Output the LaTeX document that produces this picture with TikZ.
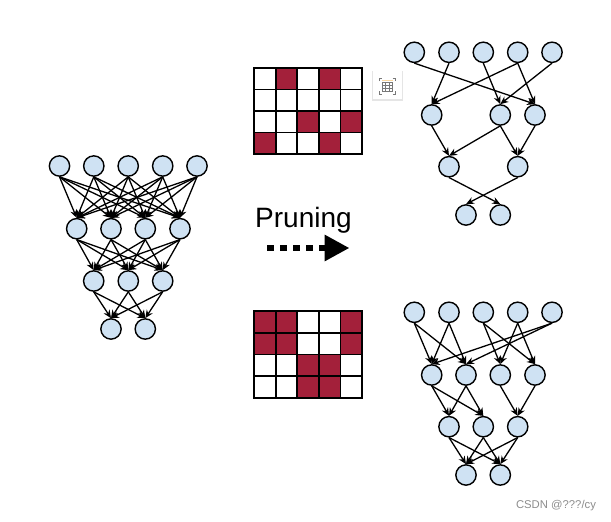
\documentclass[tikz,border=0pt]{standalone}
\usepackage{fontspec}
\setmainfont{Liberation Sans}
\usetikzlibrary{arrows.meta}
\definecolor{netcolor0000}{RGB}{207,226,243}
\definecolor{netcolor0001}{RGB}{163,32,58}
\definecolor{netcolor0002}{RGB}{140,140,140}
\definecolor{netcolor0003}{RGB}{120,120,120}
\definecolor{netcolor0004}{RGB}{250,215,160}
\begin{document}
\begin{tikzpicture}[yscale=-1
,nstyle/.style={circle,draw=black,fill=netcolor0000,line width=1.4pt,minimum size=20.3pt,inner sep=0pt}
,estyle/.style={draw=black,line width=1.3pt,-{Stealth[length=8pt,width=7pt]}}
,cstyle0/.style={draw=black,fill=white,line width=1.8pt}
,cstyle1/.style={draw=black,fill=netcolor0001,line width=1.8pt}
,istyle/.style={color=netcolor0003,line width=0.7pt}
]
\useasboundingbox (0pt,0pt) rectangle (611pt,522pt);
\node[nstyle] (la1) at (59.5pt,166pt) {};
\node[nstyle] (la2) at (93.8pt,166pt) {};
\node[nstyle] (la3) at (128.2pt,166pt) {};
\node[nstyle] (la4) at (162.7pt,166pt) {};
\node[nstyle] (la5) at (197pt,166pt) {};
\node[nstyle] (lb1) at (76.7pt,228.7pt) {};
\node[nstyle] (lb2) at (111pt,228.7pt) {};
\node[nstyle] (lb3) at (145.3pt,228.7pt) {};
\node[nstyle] (lb4) at (180pt,228.7pt) {};
\node[nstyle] (lc1) at (93.7pt,281pt) {};
\node[nstyle] (lc2) at (128.3pt,281pt) {};
\node[nstyle] (lc3) at (162.7pt,281pt) {};
\node[nstyle] (ld1) at (111pt,329pt) {};
\node[nstyle] (ld2) at (145.3pt,329pt) {};
\draw[estyle] (la1.south) -- (lb1.north);
\draw[estyle] (la1.south) -- (lb2.north);
\draw[estyle] (la1.south) -- (lb3.north);
\draw[estyle] (la1.south) -- (lb4.north);
\draw[estyle] (la2.south) -- (lb1.north);
\draw[estyle] (la2.south) -- (lb2.north);
\draw[estyle] (la2.south) -- (lb3.north);
\draw[estyle] (la2.south) -- (lb4.north);
\draw[estyle] (la3.south) -- (lb1.north);
\draw[estyle] (la3.south) -- (lb2.north);
\draw[estyle] (la3.south) -- (lb3.north);
\draw[estyle] (la3.south) -- (lb4.north);
\draw[estyle] (la4.south) -- (lb1.north);
\draw[estyle] (la4.south) -- (lb2.north);
\draw[estyle] (la4.south) -- (lb3.north);
\draw[estyle] (la4.south) -- (lb4.north);
\draw[estyle] (la5.south) -- (lb1.north);
\draw[estyle] (la5.south) -- (lb2.north);
\draw[estyle] (la5.south) -- (lb3.north);
\draw[estyle] (la5.south) -- (lb4.north);
\draw[estyle] (lb1.south) -- (lc1.north);
\draw[estyle] (lb1.south) -- (lc2.north);
\draw[estyle] (lb1.south) -- (lc3.north);
\draw[estyle] (lb2.south) -- (lc1.north);
\draw[estyle] (lb2.south) -- (lc2.north);
\draw[estyle] (lb2.south) -- (lc3.north);
\draw[estyle] (lb3.south) -- (lc1.north);
\draw[estyle] (lb3.south) -- (lc2.north);
\draw[estyle] (lb3.south) -- (lc3.north);
\draw[estyle] (lb4.south) -- (lc1.north);
\draw[estyle] (lb4.south) -- (lc2.north);
\draw[estyle] (lb4.south) -- (lc3.north);
\draw[estyle] (lc1.south) -- (ld1.north);
\draw[estyle] (lc1.south) -- (ld2.north);
\draw[estyle] (lc2.south) -- (ld1.north);
\draw[estyle] (lc2.south) -- (ld2.north);
\draw[estyle] (lc3.south) -- (ld1.north);
\draw[estyle] (lc3.south) -- (ld2.north);
\node[nstyle] (ta1) at (414.3pt,52.3pt) {};
\node[nstyle] (ta2) at (449pt,52.3pt) {};
\node[nstyle] (ta3) at (483.3pt,52.3pt) {};
\node[nstyle] (ta4) at (517.7pt,52.3pt) {};
\node[nstyle] (ta5) at (552pt,52.3pt) {};
\node[nstyle] (tb1) at (431.7pt,115pt) {};
\node[nstyle] (tb2) at (500.3pt,115pt) {};
\node[nstyle] (tb3) at (535pt,115pt) {};
\node[nstyle] (tc1) at (449pt,166.7pt) {};
\node[nstyle] (tc2) at (517.7pt,166.7pt) {};
\node[nstyle] (td1) at (466pt,215pt) {};
\node[nstyle] (td2) at (500.3pt,215pt) {};
\draw[estyle] (ta1.south) -- (tb3.north);
\draw[estyle] (ta2.south) -- (tb1.north);
\draw[estyle] (ta3.south) -- (tb2.north);
\draw[estyle] (ta4.south) -- (tb1.north);
\draw[estyle] (ta4.south) -- (tb3.north);
\draw[estyle] (ta5.south) -- (tb2.north);
\draw[estyle] (tb1.south) -- (tc1.north);
\draw[estyle] (tb2.south) -- (tc1.north);
\draw[estyle] (tb2.south) -- (tc2.north);
\draw[estyle] (tb3.south) -- (tc2.north);
\draw[estyle] (tc1.south) -- (td2.north);
\draw[estyle] (tc2.south) -- (td1.north);
\node[nstyle] (ba1) at (414.3pt,312.3pt) {};
\node[nstyle] (ba2) at (449pt,312.3pt) {};
\node[nstyle] (ba3) at (483.3pt,312.3pt) {};
\node[nstyle] (ba4) at (517.7pt,312.3pt) {};
\node[nstyle] (ba5) at (552pt,312.3pt) {};
\node[nstyle] (bb1) at (431.7pt,375pt) {};
\node[nstyle] (bb2) at (466pt,375pt) {};
\node[nstyle] (bb3) at (500.3pt,375pt) {};
\node[nstyle] (bb4) at (535pt,375pt) {};
\node[nstyle] (bc1) at (449pt,426.7pt) {};
\node[nstyle] (bc2) at (483.3pt,426.7pt) {};
\node[nstyle] (bc3) at (517.7pt,426.7pt) {};
\node[nstyle] (bd1) at (466pt,475pt) {};
\node[nstyle] (bd2) at (500.3pt,475pt) {};
\draw[estyle] (ba1.south) -- (bb1.north);
\draw[estyle] (ba1.south) -- (bb2.north);
\draw[estyle] (ba2.south) -- (bb1.north);
\draw[estyle] (ba2.south) -- (bb2.north);
\draw[estyle] (ba3.south) -- (bb3.north);
\draw[estyle] (ba3.south) -- (bb4.north);
\draw[estyle] (ba4.south) -- (bb3.north);
\draw[estyle] (ba4.south) -- (bb4.north);
\draw[estyle] (ba5.south) -- (bb1.north);
\draw[estyle] (ba5.south) -- (bb2.north);
\draw[estyle] (bb1.south) -- (bc1.north);
\draw[estyle] (bb1.south) -- (bc2.north);
\draw[estyle] (bb2.south) -- (bc1.north);
\draw[estyle] (bb2.south) -- (bc2.north);
\draw[estyle] (bb3.south) -- (bc3.north);
\draw[estyle] (bb4.south) -- (bc3.north);
\draw[estyle] (bc1.south) -- (bd1.north);
\draw[estyle] (bc1.south) -- (bd2.north);
\draw[estyle] (bc2.south) -- (bd1.north);
\draw[estyle] (bc2.south) -- (bd2.north);
\draw[estyle] (bc3.south) -- (bd1.north);
\draw[estyle] (bc3.south) -- (bd2.north);
\draw[cstyle0] (254pt,68pt) rectangle (275.6pt,89.5pt);
\draw[cstyle1] (275.6pt,68pt) rectangle (297.2pt,89.5pt);
\draw[cstyle0] (297.2pt,68pt) rectangle (318.8pt,89.5pt);
\draw[cstyle1] (318.8pt,68pt) rectangle (340.4pt,89.5pt);
\draw[cstyle0] (340.4pt,68pt) rectangle (362pt,89.5pt);
\draw[cstyle0] (254pt,89.5pt) rectangle (275.6pt,111pt);
\draw[cstyle0] (275.6pt,89.5pt) rectangle (297.2pt,111pt);
\draw[cstyle0] (297.2pt,89.5pt) rectangle (318.8pt,111pt);
\draw[cstyle0] (318.8pt,89.5pt) rectangle (340.4pt,111pt);
\draw[cstyle0] (340.4pt,89.5pt) rectangle (362pt,111pt);
\draw[cstyle0] (254pt,111pt) rectangle (275.6pt,132.5pt);
\draw[cstyle0] (275.6pt,111pt) rectangle (297.2pt,132.5pt);
\draw[cstyle1] (297.2pt,111pt) rectangle (318.8pt,132.5pt);
\draw[cstyle0] (318.8pt,111pt) rectangle (340.4pt,132.5pt);
\draw[cstyle1] (340.4pt,111pt) rectangle (362pt,132.5pt);
\draw[cstyle1] (254pt,132.5pt) rectangle (275.6pt,154pt);
\draw[cstyle0] (275.6pt,132.5pt) rectangle (297.2pt,154pt);
\draw[cstyle0] (297.2pt,132.5pt) rectangle (318.8pt,154pt);
\draw[cstyle1] (318.8pt,132.5pt) rectangle (340.4pt,154pt);
\draw[cstyle0] (340.4pt,132.5pt) rectangle (362pt,154pt);
\draw[cstyle1] (254pt,311pt) rectangle (275.6pt,332.7pt);
\draw[cstyle1] (275.6pt,311pt) rectangle (297.2pt,332.7pt);
\draw[cstyle0] (297.2pt,311pt) rectangle (318.8pt,332.7pt);
\draw[cstyle0] (318.8pt,311pt) rectangle (340.4pt,332.7pt);
\draw[cstyle1] (340.4pt,311pt) rectangle (362pt,332.7pt);
\draw[cstyle1] (254pt,332.7pt) rectangle (275.6pt,354.4pt);
\draw[cstyle1] (275.6pt,332.7pt) rectangle (297.2pt,354.4pt);
\draw[cstyle0] (297.2pt,332.7pt) rectangle (318.8pt,354.4pt);
\draw[cstyle0] (318.8pt,332.7pt) rectangle (340.4pt,354.4pt);
\draw[cstyle1] (340.4pt,332.7pt) rectangle (362pt,354.4pt);
\draw[cstyle0] (254pt,354.4pt) rectangle (275.6pt,376pt);
\draw[cstyle0] (275.6pt,354.4pt) rectangle (297.2pt,376pt);
\draw[cstyle1] (297.2pt,354.4pt) rectangle (318.8pt,376pt);
\draw[cstyle1] (318.8pt,354.4pt) rectangle (340.4pt,376pt);
\draw[cstyle0] (340.4pt,354.4pt) rectangle (362pt,376pt);
\draw[cstyle0] (254pt,376pt) rectangle (275.6pt,397.7pt);
\draw[cstyle0] (275.6pt,376pt) rectangle (297.2pt,397.7pt);
\draw[cstyle1] (297.2pt,376pt) rectangle (318.8pt,397.7pt);
\draw[cstyle1] (318.8pt,376pt) rectangle (340.4pt,397.7pt);
\draw[cstyle0] (340.4pt,376pt) rectangle (362pt,397.7pt);
\fill[black!10] (372pt,70.5pt) rectangle (402.5pt,100.5pt);
\fill[white] (373pt,71pt) rectangle (401.5pt,99pt);
\draw[istyle] (379pt,81pt) -- (379pt,78.3pt) -- (382pt,78.3pt);
\draw[istyle] (392.7pt,78.3pt) -- (395.7pt,78.3pt) -- (395.7pt,81pt);
\draw[istyle] (379pt,91.3pt) -- (379pt,94pt) -- (382pt,94pt);
\draw[istyle] (392.7pt,94pt) -- (395.7pt,94pt) -- (395.7pt,91.3pt);
\draw[color=netcolor0004,line width=0.8pt] (382.3pt,80.3pt) -- (392.7pt,80.3pt);
\draw[istyle] (382.3pt,82.5pt) rectangle (392.7pt,91.7pt);
\draw[istyle] (382.3pt,85.5pt) -- (392.7pt,85.5pt);
\draw[istyle] (382.3pt,88.6pt) -- (392.7pt,88.6pt);
\draw[istyle] (385.8pt,82.5pt) -- (385.8pt,91.7pt);
\draw[istyle] (389.2pt,82.5pt) -- (389.2pt,91.7pt);
\node (pruninglabel) at (303.5pt,220.5pt) {\fontsize{28pt}{32pt}\selectfont Pruning};
\coordinate (prunestart) at (267pt,248pt);
\coordinate (pruneend) at (349.5pt,248pt);
\draw[color=black,line width=6.5pt,dash pattern=on 6.5pt off 6.5pt,-{Triangle[length=25pt,width=25pt]}] (prunestart) -- (pruneend);
\node[color=netcolor0002] (marklabel) at (556pt,506pt) {\fontsize{11.3pt}{13pt}\selectfont CSDN @???/cy};
\end{tikzpicture}
\end{document}
